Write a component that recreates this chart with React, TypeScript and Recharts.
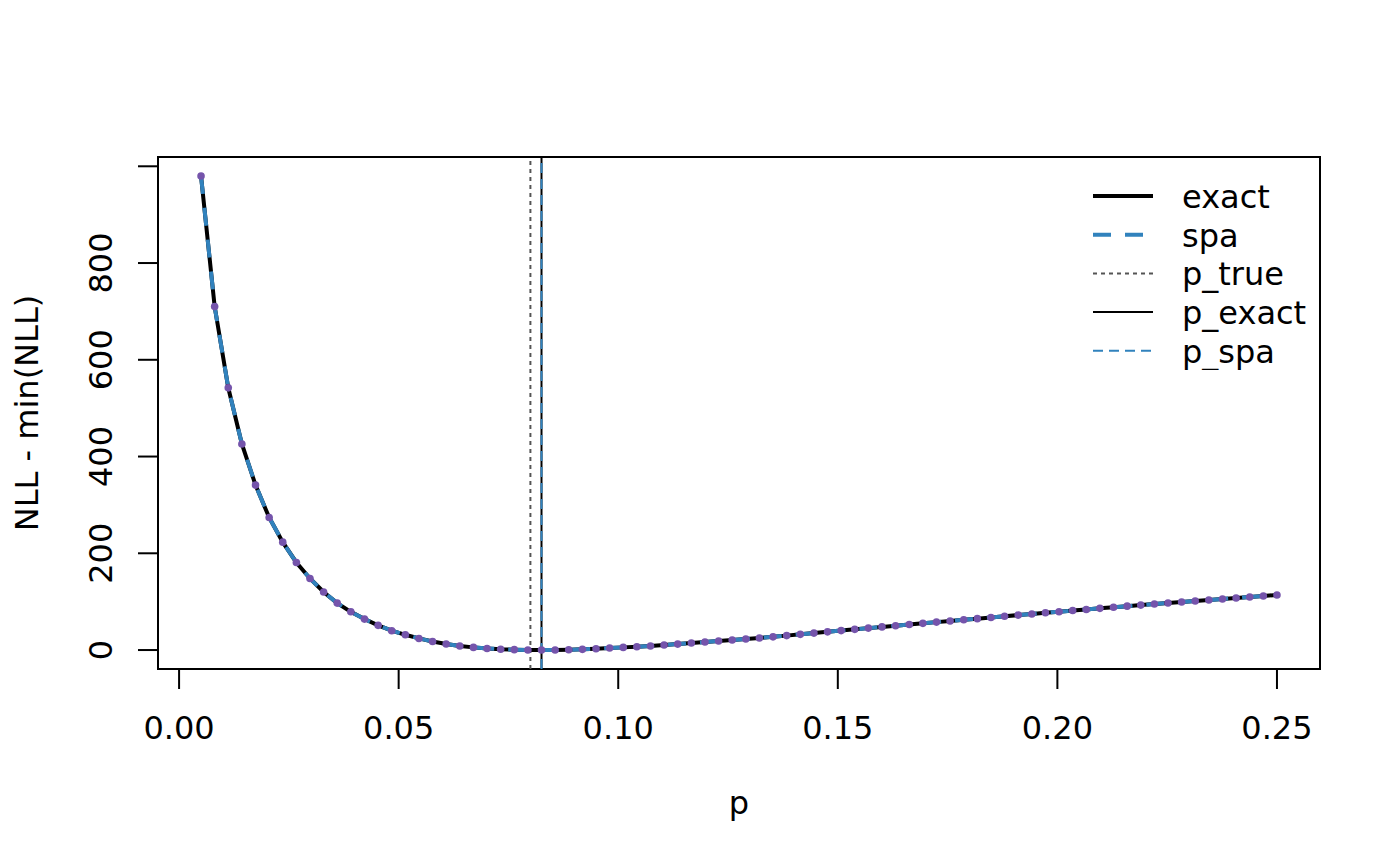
import {
  ComposedChart,
  Line,
  XAxis,
  YAxis,
  ReferenceLine,
  ReferenceArea,
} from "recharts";

const pGrid = [
  0.005, 0.0081, 0.0112, 0.0143, 0.01741, 0.02051, 0.02361, 0.02671, 0.02981, 0.03291,
  0.03601, 0.03911, 0.04222, 0.04532, 0.04842, 0.05152, 0.05462, 0.05772, 0.06082, 0.06392,
  0.06703, 0.07013, 0.07323, 0.07633, 0.07943, 0.08253, 0.08563, 0.08873, 0.09184, 0.09494,
  0.09804, 0.10114, 0.10424, 0.10734, 0.11044, 0.11354, 0.11665, 0.11975, 0.12285, 0.12595,
  0.12905, 0.13215, 0.13525, 0.13835, 0.14146, 0.14456, 0.14766, 0.15076, 0.15386, 0.15696,
  0.16006, 0.16316, 0.16627, 0.16937, 0.17247, 0.17557, 0.17867, 0.18177, 0.18487, 0.18797,
  0.19108, 0.19418, 0.19728, 0.20038, 0.20348, 0.20658, 0.20968, 0.21278, 0.21589, 0.21899,
  0.22209, 0.22519, 0.22829, 0.23139, 0.23449, 0.23759, 0.2407, 0.2438, 0.2469, 0.25,
];

// NLL - min(NLL), exact likelihood
const exactNll = [
  980, 710, 542, 426, 341, 274, 223, 181, 148, 120,
  97, 79, 64, 51, 40, 31.5, 24, 17.5, 12.5, 8.5,
  5.5, 3.3, 1.7, 0.8, 0.2, 0, 0.2, 0.6, 1.4, 2.7,
  4.1, 5.5, 6.9, 8.4, 10.3, 12.3, 14.4, 16.5, 18.6, 20.7,
  22.8, 25.0, 27.3, 29.8, 32.4, 35.0, 37.6, 40.2, 42.8, 45.3,
  47.8, 50.3, 52.8, 55.2, 57.7, 60.1, 62.5, 64.9, 67.4, 69.8,
  72.2, 74.6, 77.0, 79.3, 81.6, 83.9, 86.2, 88.4, 90.7, 92.9,
  95.1, 97.2, 99.3, 101.3, 103.4, 105.5, 107.5, 109.6, 111.7, 113.8,
];

// saddlepoint approximation (overlaps the exact curve)
const spaNll = [
  980, 710, 542, 426, 341, 274, 223, 181, 148, 120,
  97, 79, 64, 51, 40, 31.5, 24, 17.5, 12.5, 8.5,
  5.5, 3.3, 1.7, 0.8, 0.2, 0, 0.2, 0.6, 1.4, 2.7,
  4.1, 5.5, 6.9, 8.4, 10.3, 12.3, 14.4, 16.5, 18.6, 20.7,
  22.8, 25.0, 27.3, 29.8, 32.4, 35.0, 37.6, 40.2, 42.8, 45.3,
  47.8, 50.3, 52.8, 55.2, 57.7, 60.1, 62.5, 64.9, 67.4, 69.8,
  72.2, 74.6, 77.0, 79.3, 81.6, 83.9, 86.2, 88.4, 90.7, 92.9,
  95.1, 97.2, 99.3, 101.3, 103.4, 105.5, 107.5, 109.6, 111.7, 113.8,
];

const pTrue = 0.08;
const pExact = 0.08253;
const pSpa = 0.08253;

const xTicks = [0, 0.05, 0.1, 0.15, 0.2, 0.25];
const xTickLabels = ["0.00", "0.05", "0.10", "0.15", "0.20", "0.25"];
const yTicks = [0, 200, 400, 600, 800, 1000];
const yTickLabels = ["0", "200", "400", "600", "800", ""];

const legendItems = [
  { label: "exact", color: "#000000", width: 4, dash: undefined },
  { label: "spa", color: "#3182BD", width: 4, dash: "18 14" },
  { label: "p_true", color: "#555555", width: 2, dash: "4 4" },
  { label: "p_exact", color: "#000000", width: 2, dash: undefined },
  { label: "p_spa", color: "#3182BD", width: 2, dash: "10 6" },
];

const FONT = "'DejaVu Sans', sans-serif";
const BLUE = "#3182BD";
const PURPLE = "#7554AB";

const rows = pGrid.map((p, i) => ({ p, exact: exactNll[i], spa: spaNll[i] }));

const XTick = ({ x, y, payload }: any) => {
  const idx = xTicks.indexOf(payload.value);
  return (
    <text x={x} y={y + 50} textAnchor="middle" fontFamily={FONT} fontSize={32} fill="#000">
      {xTickLabels[idx]}
    </text>
  );
};

const YTick = ({ x, y, payload }: any) => {
  const idx = yTicks.indexOf(payload.value);
  const tx = x - 26;
  return (
    <text
      x={tx}
      y={y}
      transform={`rotate(-90, ${tx}, ${y})`}
      textAnchor="middle"
      fontFamily={FONT}
      fontSize={32}
      fill="#000"
    >
      {yTickLabels[idx]}
    </text>
  );
};

const XTitle = () => (
  <text x={739} y={814} textAnchor="middle" fontFamily={FONT} fontSize={32} fill="#000">
    p
  </text>
);

const YTitle = () => (
  <text
    x={38}
    y={413}
    transform="rotate(-90, 38, 413)"
    textAnchor="middle"
    fontFamily={FONT}
    fontSize={32}
    fill="#000"
  >
    NLL - min(NLL)
  </text>
);

const LegendBox = () => (
  <svg
    width={240}
    height={200}
    style={{ position: "absolute", left: 1080, top: 170, display: "block" }}
  >
    {legendItems.map((it, i) => {
      const cy = 26 + i * 38.7;
      return (
        <g key={it.label}>
          <line
            x1={13}
            x2={73}
            y1={cy}
            y2={cy}
            stroke={it.color}
            strokeWidth={it.width}
            strokeDasharray={it.dash}
          />
          <text x={102} y={cy + 12} fontFamily={FONT} fontSize={32} fill="#000">
            {it.label}
          </text>
        </g>
      );
    })}
  </svg>
);

export default function App() {
  return (
    <div style={{ position: "absolute", left: 0, top: 0, width: 1400, height: 865, background: "#fff" }}>
      <ComposedChart
        width={1400}
        height={865}
        data={rows}
        margin={{ top: 157, right: 80, bottom: 0, left: 0 }}
      >
        <XAxis
          type="number"
          dataKey="p"
          domain={[-0.0048, 0.2598]}
          ticks={xTicks}
          allowDataOverflow
          axisLine={false}
          tickLine={{ stroke: "#000", strokeWidth: 2 }}
          tickSize={20}
          tickMargin={0}
          height={196}
          tick={<XTick />}
          interval={0}
          label={{ content: <XTitle /> }}
        />
        <YAxis
          type="number"
          domain={[-39.2, 1019.2]}
          ticks={yTicks}
          allowDataOverflow
          axisLine={false}
          tickLine={{ stroke: "#000", strokeWidth: 2 }}
          tickSize={20}
          tickMargin={0}
          width={158}
          tick={<YTick />}
          interval={0}
          label={{ content: <YTitle /> }}
        />
        <ReferenceArea
          x1={-0.0048}
          x2={0.2598}
          y1={-39.2}
          y2={1019.2}
          fill="none"
          stroke="#000"
          strokeWidth={2}
          ifOverflow="visible"
        />
        <ReferenceLine x={pTrue} stroke="#555555" strokeWidth={2} strokeDasharray="4 4" />
        <ReferenceLine x={pExact} stroke="#000" strokeWidth={2} />
        <ReferenceLine x={pSpa} stroke={BLUE} strokeWidth={2} strokeDasharray="10 6" />
        <Line
          type="linear"
          dataKey="exact"
          stroke="#000"
          strokeWidth={4}
          dot={false}
          activeDot={false}
          isAnimationActive={false}
        />
        <Line
          type="linear"
          dataKey="spa"
          stroke={BLUE}
          strokeWidth={4}
          strokeDasharray="18 14"
          dot={false}
          activeDot={false}
          isAnimationActive={false}
        />
        <Line
          type="linear"
          dataKey="spa"
          stroke="none"
          strokeWidth={0}
          dot={{ r: 3.8, fill: PURPLE, stroke: "none" }}
          activeDot={false}
          isAnimationActive={false}
        />
      </ComposedChart>
      <LegendBox />
    </div>
  );
}
